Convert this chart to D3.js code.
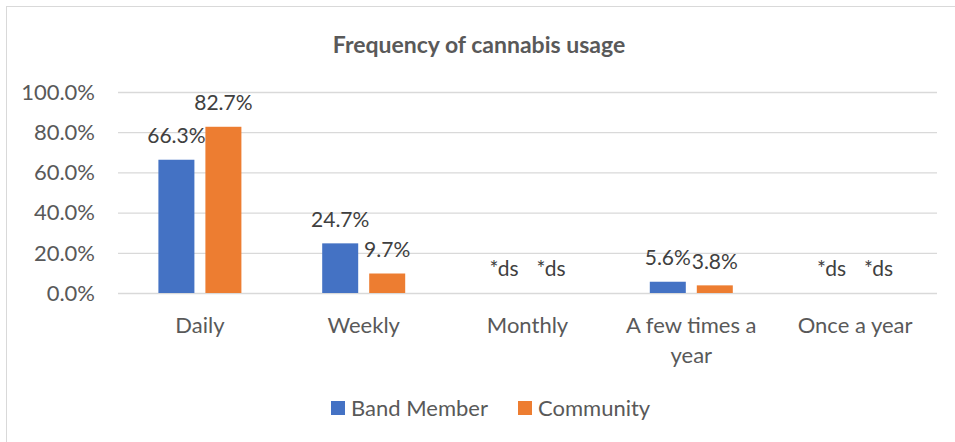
<!DOCTYPE html>
<html>
<head>
<meta charset="utf-8">
<script src="https://cdn.jsdelivr.net/npm/d3@7"></script>
<style>
  body { margin: 0; background: #fff; }
  text { font-family: Lato, "Open Sans", sans-serif; }
</style>
</head>
<body>
<script>
var categories = ["Daily", "Weekly", "Monthly", "A few times a year", "Once a year"];
var seriesNames = ["Band Member", "Community"];
var bandMember = [66.3, 24.7, null, 5.6, null];
var community = [82.7, 9.7, null, 3.8, null];
var yTicks = [0, 20, 40, 60, 80, 100];
var colors = ["#4472C4", "#ED7D31"];

var width = 955, height = 442;
var plotLeft = 118, plotRight = 937, plotTop = 92, plotBottom = 293;
var fontSize = 22;

var svg = d3.select("body").append("svg")
  .attr("width", width)
  .attr("height", height);

// chart border
svg.append("rect")
  .attr("x", 6.5).attr("y", 6.5)
  .attr("width", 980).attr("height", 470)
  .attr("fill", "none")
  .attr("stroke", "#d9d9d9");

svg.append("text")
  .text("Frequency of cannabis usage")
  .attr("x", 479).attr("y", 45)
  .attr("dy", "0.35em")
  .attr("text-anchor", "middle")
  .attr("font-size", 23)
  .attr("font-weight", "bold")
  .attr("fill", "#595959");

var x = d3.scaleBand().domain(categories).range([plotLeft, plotRight]);
var xSub = d3.scaleBand().domain(seriesNames).range([-41.5, 41.5]).paddingInner(0.234);
var y = d3.scaleLinear().domain([0, 100]).range([plotBottom, plotTop]);

// gridlines
svg.selectAll(".grid")
  .data(yTicks)
  .enter().append("line")
  .attr("x1", plotLeft).attr("x2", plotRight)
  .attr("y1", function(d) { return y(d) + 0.5 })
  .attr("y2", function(d) { return y(d) + 0.5 })
  .attr("stroke", "#d9d9d9")
  .attr("stroke-width", 1.3);

svg.selectAll(".ytick")
  .data(yTicks)
  .enter().append("text")
  .text(function(d) { return d.toFixed(1) + "%" })
  .attr("x", 95)
  .attr("y", function(d) { return y(d) })
  .attr("dy", "0.35em")
  .attr("text-anchor", "end")
  .attr("font-size", fontSize)
  .attr("fill", "#595959");

var rows = categories.map(function(c, i) {
  return { cat: c, values: [bandMember[i], community[i]] };
});

var groups = svg.selectAll(".cat")
  .data(rows)
  .enter().append("g")
  .attr("transform", function(d) {
    return "translate(" + (x(d.cat) + x.bandwidth() / 2) + " 0)";
  });

groups.selectAll("rect")
  .data(function(d) {
    return d.values.map(function(v, j) { return { name: seriesNames[j], v: v, j: j } });
  })
  .enter().append("rect")
  .attr("x", function(d) { return xSub(d.name) })
  .attr("width", xSub.bandwidth())
  .attr("y", function(d) { return y(d.v || 0) })
  .attr("height", function(d) { return plotBottom - y(d.v || 0) })
  .attr("fill", function(d) { return colors[d.j] });

groups.selectAll(".lbl")
  .data(function(d) {
    return d.values.map(function(v, j) { return { name: seriesNames[j], v: v } });
  })
  .enter().append("text")
  .text(function(d) { return d.v == null ? "*ds" : d.v.toFixed(1) + "%" })
  .attr("x", function(d) { return xSub(d.name) + xSub.bandwidth() / 2 })
  .attr("y", function(d) { return y(d.v || 0) - 24 })
  .attr("dy", "0.35em")
  .attr("text-anchor", "middle")
  .attr("font-size", 21)
  .attr("fill", "#404040");

// category labels, wrapped like excel
var catText = groups.append("text")
  .attr("text-anchor", "middle")
  .attr("font-size", fontSize)
  .attr("fill", "#595959");

catText.each(function(d) {
  var lines = d.cat == "A few times a year" ? ["A few times a", "year"] : [d.cat];
  var t = d3.select(this);
  lines.forEach(function(l, k) {
    t.append("tspan").attr("x", 0).attr("y", 325 + k * 30).attr("dy", "0.35em").text(l);
  });
});

// legend
var legendX = [331, 518];
var legend = svg.selectAll(".legend")
  .data(seriesNames)
  .enter().append("g")
  .attr("transform", function(d, i) { return "translate(" + legendX[i] + " 401)" });

legend.append("rect")
  .attr("width", 14).attr("height", 14)
  .attr("fill", function(d, i) { return colors[i] });

legend.append("text")
  .text(function(d) { return d })
  .attr("x", 20).attr("y", 7)
  .attr("dy", "0.35em")
  .attr("font-size", fontSize)
  .attr("fill", "#595959");
</script>
</body>
</html>
